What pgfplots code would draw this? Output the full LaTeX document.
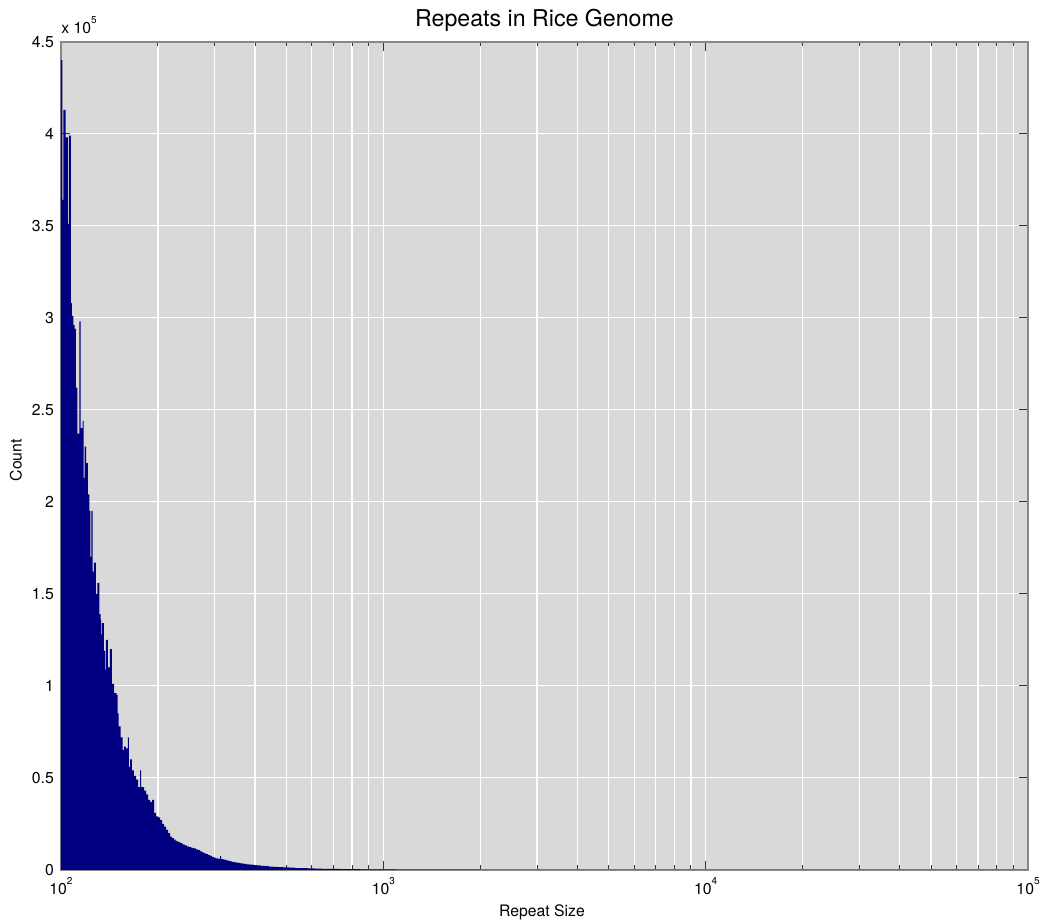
\documentclass[border=0pt]{standalone}
\usepackage{pgfplots}
\pgfplotsset{compat=1.18}
\usepackage{fontspec}
\setmainfont{TeX Gyre Heros}
\definecolor{bggray}{RGB}{217,217,217}
\definecolor{barblue}{RGB}{0,0,128}
\definecolor{framegray}{RGB}{136,136,136}
\newcommand{\sups}[1]{\raisebox{4.8pt}{\fontsize{5pt}{5pt}\selectfont #1}}
\begin{document}
\begin{tikzpicture}
\useasboundingbox (-30.5pt,-26.65pt) rectangle (490.5pt,435.35pt);
\begin{axis}[
  name=ax, at={(0,0)}, anchor=south west,
  scale only axis, width=484pt, height=414.5pt,
  xmode=log, xmin=100, xmax=100000, ymin=0, ymax=450000,
  axis background/.style={fill=bggray},
  xtick={100,1000,10000,100000},
  xticklabels={10\sups{2},10\sups{3},10\sups{4},10\sups{5}},
  minor xtick={200,300,400,500,600,700,800,900,2000,3000,4000,5000,6000,7000,8000,9000,20000,30000,40000,50000,60000,70000,80000,90000},
  ytick={0,50000,100000,150000,200000,250000,300000,350000,400000,450000},
  yticklabels={0,0.5,1,1.5,2,2.5,3,3.5,4,4.5},
  scaled y ticks=false,
  grid=both,
  major grid style={white, line width=0.65pt},
  minor grid style={white, line width=0.65pt},
  tick align=inside, xtick pos=both, ytick pos=both,
  major tick length=4.6pt, minor tick length=2.2pt,
  tick style={black!80, line width=0.5pt},
  axis line style={framegray, line width=0.9pt},
  tick label style={font=\fontsize{7.9pt}{9pt}\selectfont},
  xticklabel style={anchor=base, yshift=-12.15pt, inner sep=0pt},
  yticklabel style={anchor=east, inner sep=0pt, xshift=-3.35pt},
]
\addplot[const plot mark left, fill=barblue, draw=none] coordinates {
(100,440000) (101,364000) (101.7,413000) (103.4,398000) (105,351000) (105.9,399000)
(107.4,308000) (108.2,301000) (109.2,296000) (110.3,294000) (111.3,262000) (112.4,237000)
(114,298000) (115.1,240000) (116.7,244000) (117.5,213000) (118.4,230000) (119.6,221000)
(121.3,204000) (122.5,195000) (123.5,170000) (124.2,195000) (125.4,162000) (126.6,167000)
(128.4,150000) (129.7,156000) (131.5,139000) (132.7,136000) (133.3,128000) (134,134000)
(136,119000) (137,109000) (137.9,125000) (139.9,110000) (141.9,120000) (144,101000)
(146.1,96000) (148.9,95000) (150,85000) (151,78000) (153.2,72000) (155.3,65000)
(156.8,67000) (159.1,66000) (161.4,72000) (162.6,56000) (163.8,60000) (166.1,54000)
(168.5,51000) (171,49000) (173.4,45000) (176,54000) (177.3,45000) (181.1,43000)
(183.7,41000) (186.3,38000) (189,37000) (191.7,38000) (194.5,31000) (197.3,29000)
(200.1,28500) (203,27000) (205.9,25000) (208.9,23500) (211.9,21700) (214.9,20000)
(218,18000) (221,17200) (224,16400) (227,15800) (230,15200) (234,14600)
(238,13900) (242,13300) (246,12800) (250,12400) (254,12000) (258,11700)
(262,11200) (266,10700) (270,10100) (274,9500) (278,9000) (282,8500)
(286,8000) (290,7600) (294,7100) (298,6700) (303,6300) (308,6000)
(312,7600) (314,5800) (319,5500) (325,5100) (331,4700) (338,4400)
(345,4100) (352,3800) (360,3500) (368,3250) (377,3000) (386,2800)
(396,2600) (406,2400) (417,2200) (429,2000) (442,1800) (456,1600)
(472,1450) (490,1300) (510,1150) (532,1000) (556,880) (582,770)
(612,670) (645,580) (685,500) (733,420) (790,350) (850,300)
(920,250) (1000,200) (1100,150) (1500,80) (2000,50) (3000,30)
(5000,20) (10000,10) (100000,10)
} \closedcycle;
\end{axis}
\node[anchor=base, inner sep=0pt, font=\fontsize{11.6pt}{13pt}\selectfont] at (242pt,422pt) {Repeats in Rice Genome};
\node[anchor=base west, inner sep=0pt, font=\fontsize{7.9pt}{9pt}\selectfont] at (0pt,418.7pt) {x 10\sups{5}};
\node[rotate=90, anchor=base, inner sep=0pt, font=\fontsize{7.9pt}{9pt}\selectfont] at (-19.65pt,205pt) {Count};
\node[anchor=base, inner sep=0pt, font=\fontsize{7.9pt}{9pt}\selectfont] at (240.75pt,-23.3pt) {Repeat Size};
\end{tikzpicture}
\end{document}
